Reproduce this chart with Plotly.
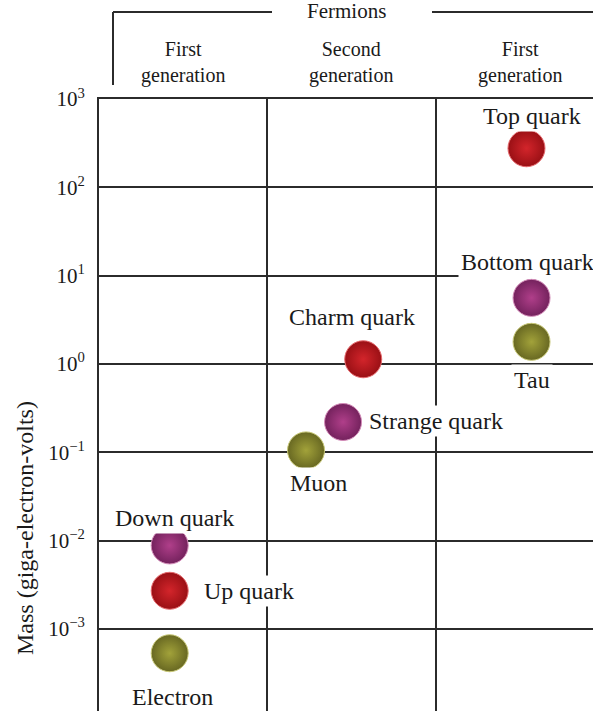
import math
import plotly.graph_objects as go

# Fermion masses in GeV, grouped by generation column
particles = ["Electron", "Up quark", "Down quark",
             "Muon", "Strange quark", "Charm quark",
             "Tau", "Bottom quark", "Top quark"]
column_pos = [0.42, 0.42, 0.42, 1.23, 1.45, 1.57, 2.57, 2.57, 2.54]
mass_gev = [0.00053, 0.0027, 0.0088, 0.105, 0.22, 1.13, 1.78, 5.6, 277]
kind = ["lepton", "up", "down", "lepton", "down", "up", "lepton", "down", "up"]

column_headers = ["First<br>generation", "Second<br>generation", "First<br>generation"]
tick_values = [1e-4, 1e-3, 1e-2, 1e-1, 1, 10, 100, 1000]
tick_labels = ["10<sup>\u22124</sup>", "10<sup>\u22123</sup>", "10<sup>\u22122</sup>",
               "10<sup>\u22121</sup>", "10<sup>0</sup>", "10<sup>1</sup>",
               "10<sup>2</sup>", "10<sup>3</sup>"]

# Shading per particle family: (rim colour, centre colour, outline)
palette = {
    "up": ("#9a1015", "#d3252b", "#e56a6e"),
    "down": ("#74225d", "#b03f8a", "#d38bb8"),
    "lepton": ("#686822", "#a2a23a", "#c8c878"),
}

# Label placement relative to each marker (pixels) and anchor
label_style = {
    "Electron": (3, -44, "center"),
    "Up quark": (31, 0, "left"),
    "Down quark": (5, 27, "center"),
    "Muon": (12, -33, "center"),
    "Strange quark": (23, 1, "left"),
    "Charm quark": (-11, 42, "center"),
    "Tau": (0, -38, "center"),
    "Bottom quark": (-4, 36, "center"),
    "Top quark": (6, 32, "center"),
}

FONT = "Liberation Serif, Times New Roman, serif"
INK = "#2b2b2b"
TXT = "#1a1a1a"

fig = go.Figure()
for fam in ["lepton", "up", "down"]:
    idx = [i for i, k in enumerate(kind) if k == fam]
    rim, centre, edge = palette[fam]
    fig.add_trace(go.Scatter(
        x=[column_pos[i] for i in idx],
        y=[mass_gev[i] for i in idx],
        mode="markers",
        marker=dict(size=37, color=rim,
                    gradient=dict(type="radial", color=centre),
                    line=dict(color=edge, width=1)),
        hoverinfo="skip", showlegend=False,
    ))

annotations = []
for name, x, y in zip(particles, column_pos, mass_gev):
    dx, dy, anchor = label_style[name]
    annotations.append(dict(
        x=x, y=math.log10(y), xref="x", yref="y", text=name, showarrow=False,
        xshift=dx, yshift=dy, xanchor=anchor, yanchor="middle",
        bgcolor="white", borderpad=2,
        font=dict(family=FONT, size=24, color=TXT),
    ))

for i, head in enumerate(column_headers):
    annotations.append(dict(
        x=i + 0.5, y=1, xref="x", yref="paper", yshift=99 - 62,
        text=head, showarrow=False, xanchor="center", yanchor="middle",
        font=dict(family=FONT, size=20, color=TXT),
    ))

W, H = 593, 711
L, T = 99, 99
pw, ph = W - L, H - T


def px(xp):
    return (xp - L) / pw


def py(yp):
    return (H - yp) / ph


# Group title over the three columns
annotations.append(dict(
    x=px(346), y=py(11), xref="paper", yref="paper", text="Fermions",
    showarrow=False, xanchor="center", yanchor="middle",
    font=dict(family=FONT, size=21, color=TXT),
))
# Axis title
annotations.append(dict(
    x=px(25), y=py(528), xref="paper", yref="paper",
    text="Mass (giga-electron-volts)", textangle=-90,
    showarrow=False, xanchor="center", yanchor="middle",
    font=dict(family=FONT, size=24, color=TXT),
))

# Bracket above the generation headers
bracket = dict(color=INK, width=2)
shapes = [
    dict(type="line", xref="paper", yref="paper", x0=px(113), x1=px(272), y0=py(12), y1=py(12), line=bracket),
    dict(type="line", xref="paper", yref="paper", x0=px(432), x1=px(600), y0=py(12), y1=py(12), line=bracket),
    dict(type="line", xref="paper", yref="paper", x0=px(113), x1=px(113), y0=py(12), y1=py(85), line=bracket),
]

fig.update_layout(
    width=W, height=H,
    margin=dict(l=L, r=0, t=T, b=0),
    paper_bgcolor="white", plot_bgcolor="white",
    annotations=annotations, shapes=shapes,
    xaxis=dict(range=[0, pw / 168.3], side="top", tickvals=[0, 1, 2, 3],
               showticklabels=False, ticks="", showgrid=True,
               gridcolor=INK, gridwidth=2, showline=True, linecolor=INK,
               linewidth=2, zeroline=False, fixedrange=True),
    yaxis=dict(type="log", range=[-3.93, 3], tickvals=tick_values,
               ticktext=tick_labels, ticks="", ticklabelstandoff=8,
               showgrid=True, gridcolor=INK, gridwidth=2, showline=True,
               linecolor=INK, linewidth=2, zeroline=False,
               tickfont=dict(family=FONT, size=21, color=TXT),
               fixedrange=True),
)

fig.write_html("out.html")
